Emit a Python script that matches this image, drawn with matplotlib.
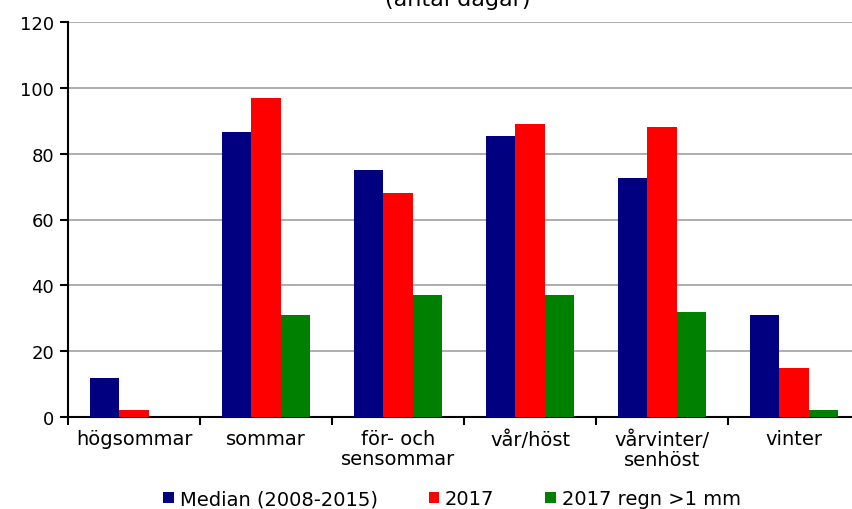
import numpy as np
import matplotlib.pyplot as plt

categories = ['högsommar', 'sommar', 'för- och\nsensommar', 'vår/höst', 'vårvinter/\nsenhöst', 'vinter']
median = [12, 86.5, 75, 85.5, 72.5, 31]
y2017 = [2, 97, 68, 89, 88, 15]
regn = [0, 31, 37, 37, 32, 2]

series = [('Median (2008-2015)', median, '#000080'),
          ('2017', y2017, '#ff0000'),
          ('2017 regn >1 mm', regn, '#008000')]

fig = plt.figure(figsize=(8.52, 5.10), dpi=100)
ax = fig.add_axes([68 / 852, 1 - 418 / 510, (860 - 68) / 852, (418 - 23) / 510])

x = np.arange(len(categories))
w = 0.222
for i, (name, vals, col) in enumerate(series):
    ax.bar(x + (i - 1) * w, vals, w, color=col, label=name, zorder=3)

ax.set_xlim(-0.5, len(categories) - 0.5)
ax.set_ylim(0, 120)
ax.set_yticks(range(0, 121, 20))
ax.yaxis.grid(True, color='#a0a0a0', lw=1.2, zorder=0)
ax.set_xticks(np.arange(len(categories) + 1) - 0.5)
ax.set_xticklabels([])
ax.set_xticks(x, minor=True)
ax.set_xticklabels(categories, minor=True, fontsize=14, linespacing=1.05)
ax.tick_params(axis='x', which='minor', length=0, pad=9)
ax.tick_params(axis='x', which='major', length=6, width=1.5, direction='out')
ax.tick_params(axis='y', length=6, width=1.5, labelsize=13, pad=4)
for s in ['top', 'right']:
    ax.spines[s].set_visible(False)
for s in ['left', 'bottom']:
    ax.spines[s].set_linewidth(1.5)

# title line is cut at the top edge in the original
fig.text(458 / 852, 1 - 6 / 510, '(antal dagar)', ha='center', va='baseline', fontsize=16)

fig.legend(loc='center', bbox_to_anchor=(452 / 852, 1 - 500 / 510), ncol=3,
           frameon=False, fontsize=14, handlelength=0.55, handleheight=0.55,
           handletextpad=0.3, columnspacing=2.6)

fig.savefig('out.png', dpi=100)
